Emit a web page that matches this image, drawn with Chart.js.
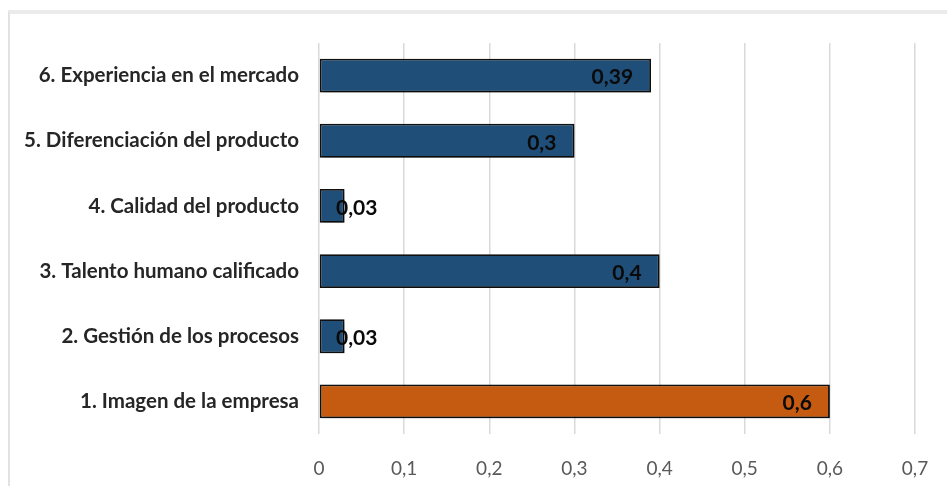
<!DOCTYPE html>
<html>
<head>
<meta charset="utf-8">
<script src="https://cdn.jsdelivr.net/npm/chart.js@4"></script>
<style>
  html, body { margin: 0; padding: 0; background: #ffffff; }
  #wrap { position: relative; width: 947px; height: 486px; overflow: hidden; }
  #frame { position: absolute; left: 8px; top: 10px; right: 0; bottom: 0;
           border-top: 4px solid #ebebeb; border-left: 2px solid #e2e2e2; }
  #chart { position: absolute; left: 0; top: 0; }
</style>
</head>
<body>
<div id="wrap">
  <div id="frame"></div>
  <canvas id="chart" width="947" height="486"></canvas>
</div>
<script>
// Factores, listed top to bottom as they appear on the axis
const categories = [
  '6. Experiencia en el mercado',
  '5. Diferenciación del producto',
  '4. Calidad del producto',
  '3. Talento humano calificado',
  '2. Gestión de los procesos',
  '1. Imagen de la empresa'
];
const values = [0.39, 0.3, 0.03, 0.4, 0.03, 0.6];
const barColors = ['#1f4e79', '#1f4e79', '#1f4e79', '#1f4e79', '#1f4e79', '#c55a11'];
const xTicks = [0, 0.1, 0.2, 0.3, 0.4, 0.5, 0.6, 0.7];

const FONT = 'Lato, "Open Sans", sans-serif';
const fmt = v => String(v).replace('.', ',');

// Plot area edges in canvas pixels
const AREA = { left: 319, right: 915, top: 43, bottom: 434 };

// Soft drop shadow under the bars
const barShadow = {
  id: 'barShadow',
  beforeDatasetsDraw(chart) {
    const ctx = chart.ctx;
    ctx.save();
    ctx.shadowColor = 'rgba(0,0,0,0.35)';
    ctx.shadowBlur = 4;
    ctx.shadowOffsetX = 2;
    ctx.shadowOffsetY = 2;
  },
  afterDatasetsDraw(chart) {
    chart.ctx.restore();
  }
};

// Value labels at the inner end of each bar; pushed outward when the bar is too short
const valueLabels = {
  id: 'valueLabels',
  afterDatasetsDraw(chart) {
    const ctx = chart.ctx;
    const meta = chart.getDatasetMeta(0);
    const x0 = chart.scales.x.getPixelForValue(0);
    ctx.save();
    ctx.font = 'bold 21px ' + FONT;
    ctx.fillStyle = '#0a0a0a';
    ctx.textAlign = 'right';
    ctx.textBaseline = 'middle';
    meta.data.forEach((bar, i) => {
      const txt = fmt(values[i]);
      const w = ctx.measureText(txt).width;
      const right = Math.max(bar.x - 18, x0 + 17 + w);
      ctx.fillText(txt, right, bar.y + 2);
    });
    ctx.restore();
  }
};

new Chart(document.getElementById('chart'), {
  type: 'bar',
  data: {
    labels: categories,
    datasets: [{
      data: values,
      backgroundColor: barColors,
      borderColor: '#111111',
      borderWidth: 1.8,
      borderSkipped: false,
      categoryPercentage: 1,
      barPercentage: 0.52
    }]
  },
  options: {
    indexAxis: 'y',
    responsive: false,
    animation: false,
    devicePixelRatio: 1,
    layout: { padding: { left: 0, right: 947 - AREA.right, top: AREA.top, bottom: 0 } },
    plugins: { legend: { display: false }, tooltip: { enabled: false } },
    scales: {
      x: {
        min: 0,
        max: 0.7,
        afterBuildTicks: s => { s.ticks = xTicks.map(v => ({ value: v })); },
        afterFit: s => { s.height = 486 - AREA.bottom; s.paddingLeft = 0; s.paddingRight = 0; },
        grid: { color: '#d9d9d9', lineWidth: 1.5, drawTicks: false },
        border: { display: false },
        ticks: {
          padding: 23,
          color: '#595959',
          font: { family: FONT, size: 19 },
          callback: v => fmt(v)
        }
      },
      y: {
        afterFit: s => { s.width = AREA.left; s.paddingTop = 0; s.paddingBottom = 0; },
        grid: { display: false, drawTicks: false },
        border: { display: false },
        ticks: {
          padding: 20,
          color: '#262626',
          font: { family: FONT, size: 20.5, weight: 'bold' }
        }
      }
    }
  },
  plugins: [barShadow, valueLabels]
});
</script>
</body>
</html>
